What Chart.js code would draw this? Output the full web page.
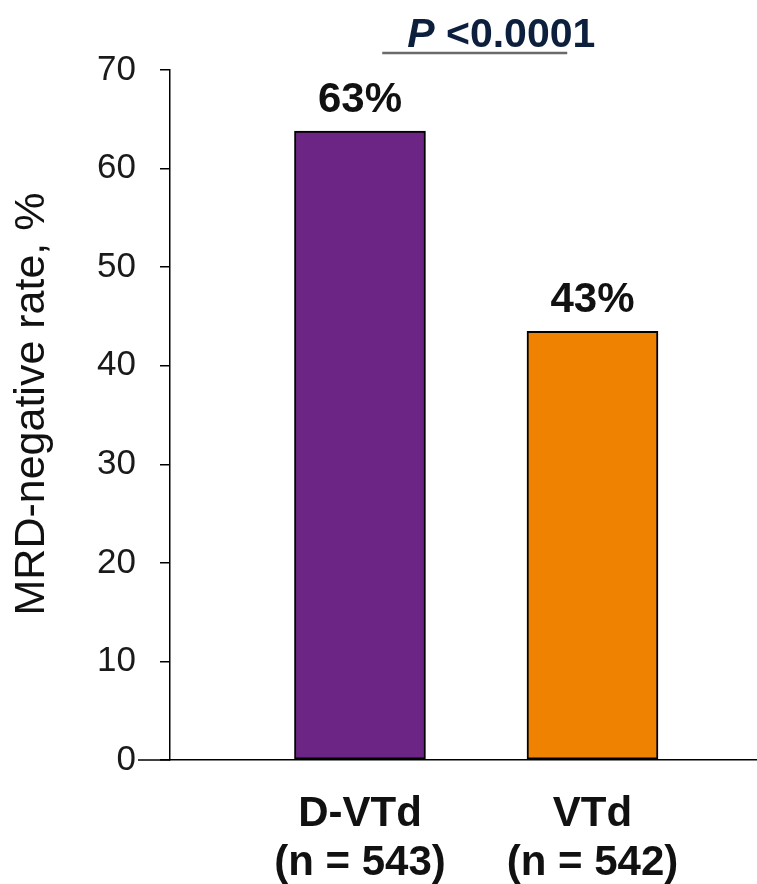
<!DOCTYPE html>
<html>
<head>
<meta charset="utf-8">
<script src="https://cdn.jsdelivr.net/npm/chart.js@4/dist/chart.umd.min.js"></script>
<style>
  html, body { margin: 0; padding: 0; background: #ffffff; }
  #wrap { width: 757px; height: 884px; position: relative; }
</style>
</head>
<body>
<div id="wrap"><canvas id="c"></canvas></div>
<script>
// ---- data ----
const categories = ["D-VTd", "VTd"];
const categoryN = ["(n = 543)", "(n = 542)"];
const values = [63.8, 43.5];
const valueLabels = ["63%", "43%"];
const barColors = ["#6c2585", "#ef8200"];
const yTicks = [0, 10, 20, 30, 40, 50, 60, 70];
const yTitle = "MRD-negative rate, %";
const pItalic = "P";
const pRest = " <0.0001";

const FONT = "'Liberation Sans', Arial, Helvetica, sans-serif";

const points = categories.map((c, i) => ({ x: i + 1, y: values[i] }));

const annotPlugin = {
  id: 'annot',
  afterDraw(chart) {
    const ctx = chart.ctx;
    const meta = chart.getDatasetMeta(0);
    const ys = chart.scales.y;
    const ca = chart.chartArea;
    ctx.save();
    // x-axis extension to the left of the y axis
    const y0 = ys.getPixelForValue(0);
    ctx.strokeStyle = '#000';
    ctx.lineWidth = 1.5;
    ctx.beginPath();
    ctx.moveTo(ca.left - 32, y0);
    ctx.lineTo(ca.left, y0);
    ctx.stroke();
    // y-axis title (rotated)
    ctx.save();
    ctx.translate(32, (ca.top + ca.bottom) / 2 - 11);
    ctx.rotate(-Math.PI / 2);
    ctx.fillStyle = '#111';
    ctx.font = '43px ' + FONT;
    ctx.textAlign = 'center';
    ctx.textBaseline = 'middle';
    ctx.fillText(yTitle, 0, 0);
    ctx.restore();
    // value labels above bars
    ctx.fillStyle = '#111';
    ctx.font = 'bold 42px ' + FONT;
    ctx.textAlign = 'center';
    ctx.textBaseline = 'alphabetic';
    meta.data.forEach((bar, i) => {
      ctx.fillText(valueLabels[i], bar.x, bar.y - 19);
    });
    // p-value with underline
    const mid = (meta.data[0].x + meta.data[1].x) / 2;
    ctx.strokeStyle = '#6a6a6a';
    ctx.lineWidth = 2.5;
    ctx.beginPath();
    ctx.moveTo(mid - 94, 53);
    ctx.lineTo(mid + 91, 53);
    ctx.stroke();
    ctx.fillStyle = '#0c1f3d';
    ctx.textAlign = 'left';
    let x = mid - 69;
    ctx.font = 'italic bold 41px ' + FONT;
    ctx.fillText(pItalic, x, 47);
    x += ctx.measureText(pItalic).width;
    ctx.font = 'bold 41px ' + FONT;
    ctx.fillText(pRest, x, 47);
    ctx.restore();
  }
};

new Chart(document.getElementById('c'), {
  type: 'bar',
  data: {
    datasets: [{
      data: points,
      backgroundColor: barColors,
      borderColor: '#000',
      borderWidth: 2,
      borderSkipped: false,
      barThickness: 131
    }]
  },
  options: {
    responsive: true,
    maintainAspectRatio: false,
    animation: false,
    events: [],
    layout: { padding: { top: 70, right: 0, left: 0, bottom: 0 } },
    plugins: { legend: { display: false }, tooltip: { enabled: false } },
    scales: {
      x: {
        type: 'linear',
        offset: false,
        min: 0.183,
        max: 2.7075,
        afterBuildTicks(scale) { scale.ticks = categories.map((c, i) => ({ value: i + 1 })); },
        afterFit(scale) { scale.height = 124; },
        grid: { display: false, drawTicks: false },
        border: { display: true, color: '#000', width: 1.5 },
        ticks: {
          padding: 30,
          color: '#111',
          font: { family: FONT, size: 42, weight: 'bold', lineHeight: 1.167 },
          callback(v) {
            const i = Math.round(v) - 1;
            return [categories[i], categoryN[i]];
          }
        }
      },
      y: {
        min: 0,
        max: 70,
        afterBuildTicks(scale) { scale.ticks = yTicks.map(v => ({ value: v })); },
        afterFit(scale) { scale.width = 170; },
        grid: { display: true, drawOnChartArea: false, drawTicks: true, tickLength: 10, color: '#000', lineWidth: 1.5 },
        border: { display: true, color: '#000', width: 1.5 },
        ticks: {
          padding: 24,
          color: '#1a1a1a',
          font: { family: FONT, size: 35 }
        },
        title: { display: false }
      }
    }
  },
  plugins: [annotPlugin]
});
</script>
</body>
</html>
